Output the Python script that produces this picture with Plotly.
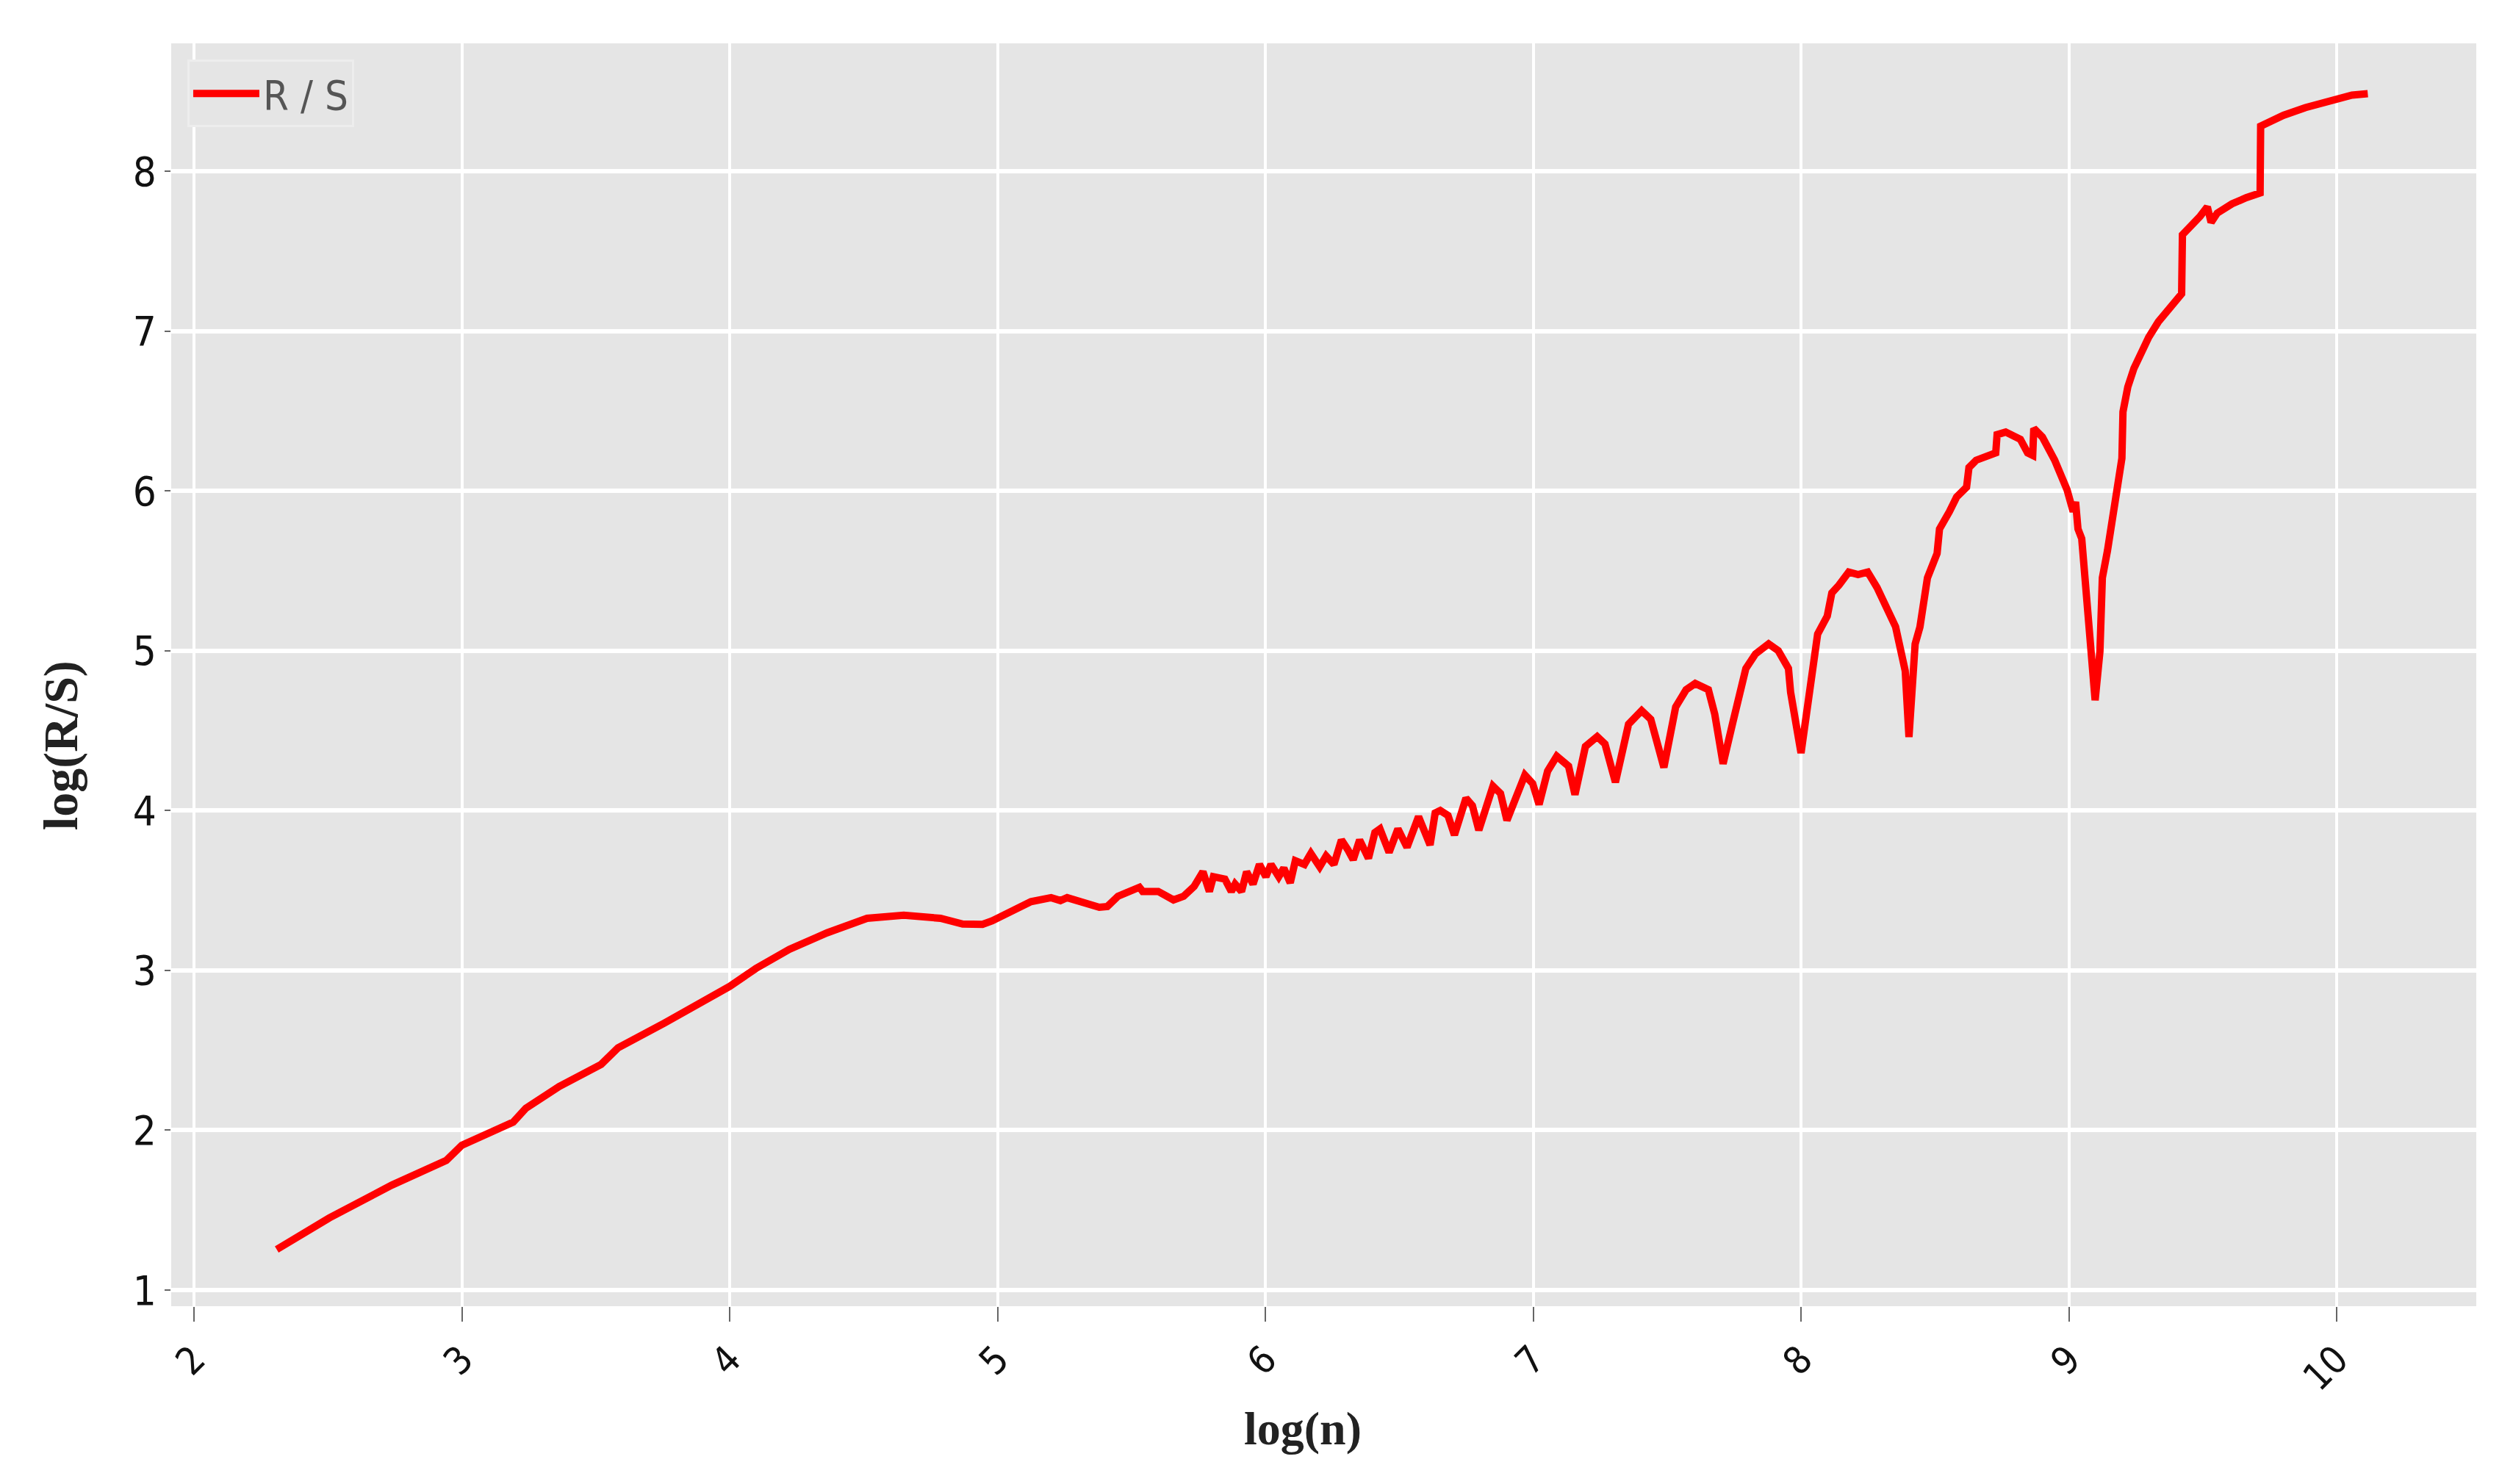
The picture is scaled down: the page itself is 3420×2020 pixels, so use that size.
import plotly.graph_objects as go

# ---- data ----
log_n = [
    2.309, 2.505, 2.739, 2.942, 3.0, 3.192, 3.239, 3.364, 3.520, 3.583, 3.755, 3.927,
    4.0, 4.098, 4.223, 4.364, 4.513, 4.65, 4.686, 4.787, 4.87, 4.944, 4.98, 5.06,
    5.125, 5.20, 5.235, 5.26, 5.317, 5.38, 5.41, 5.45, 5.53, 5.542, 5.600, 5.657,
    5.695, 5.734, 5.767, 5.791, 5.806, 5.849, 5.873, 5.887, 5.911, 5.930, 5.954, 5.978,
    6.002, 6.021, 6.050, 6.069, 6.093, 6.112, 6.146, 6.170, 6.203, 6.227, 6.256, 6.284,
    6.308, 6.328, 6.352, 6.385, 6.409, 6.428, 6.462, 6.495, 6.529, 6.572, 6.615, 6.634,
    6.653, 6.682, 6.706, 6.749, 6.773, 6.797, 6.850, 6.878, 6.902, 6.969, 6.998, 7.022,
    7.054, 7.088, 7.132, 7.156, 7.195, 7.239, 7.268, 7.307, 7.356, 7.405, 7.439, 7.488,
    7.532, 7.571, 7.605, 7.654, 7.678, 7.709, 7.746, 7.776, 7.794, 7.830, 7.879, 7.915,
    7.953, 7.961, 7.980, 8.0, 8.020, 8.044, 8.062, 8.098, 8.115, 8.142, 8.178, 8.213,
    8.249, 8.284, 8.311, 8.337, 8.353, 8.366, 8.389, 8.403, 8.426, 8.444, 8.472, 8.508,
    8.517, 8.554, 8.581, 8.618, 8.627, 8.654, 8.727, 8.732, 8.764, 8.819, 8.846, 8.865,
    8.869, 8.901, 8.947, 8.993, 9.016, 9.025, 9.034, 9.048, 9.075, 9.098, 9.116, 9.125,
    9.144, 9.166, 9.180, 9.198, 9.202, 9.220, 9.243, 9.270, 9.298, 9.334, 9.389, 9.421,
    9.424, 9.462, 9.490, 9.517, 9.531, 9.554, 9.609, 9.663, 9.714, 9.716, 9.737, 9.801,
    9.883, 9.993, 10.057, 10.116,
]
log_rs = [
    1.254, 1.451, 1.657, 1.811, 1.906, 2.051, 2.137, 2.274, 2.412, 2.515, 2.669, 2.840,
    2.900, 3.012, 3.132, 3.235, 3.326, 3.345, 3.340, 3.326, 3.290, 3.288, 3.310, 3.370,
    3.430, 3.455, 3.437, 3.455, 3.430, 3.395, 3.400, 3.464, 3.520, 3.494, 3.494, 3.441,
    3.464, 3.525, 3.617, 3.494, 3.586, 3.571, 3.494, 3.540, 3.494, 3.617, 3.540, 3.663,
    3.586, 3.663, 3.586, 3.640, 3.548, 3.686, 3.663, 3.732, 3.648, 3.716, 3.663, 3.816,
    3.755, 3.693, 3.816, 3.701, 3.862, 3.885, 3.739, 3.885, 3.770, 3.962, 3.785, 3.985,
    4.000, 3.969, 3.847, 4.077, 4.031, 3.877, 4.153, 4.107, 3.939, 4.222, 4.169, 4.038,
    4.247, 4.340, 4.278, 4.100, 4.401, 4.463, 4.417, 4.177, 4.540, 4.625, 4.571, 4.270,
    4.648, 4.756, 4.795, 4.756, 4.602, 4.293, 4.556, 4.756, 4.889, 4.980, 5.043, 5.000,
    4.889, 4.741, 4.556, 4.360, 4.600, 4.900, 5.104, 5.217, 5.362, 5.411, 5.492, 5.476,
    5.492, 5.395, 5.298, 5.201, 5.150, 5.050, 4.874, 4.460, 5.042, 5.149, 5.456, 5.609,
    5.762, 5.870, 5.962, 6.023, 6.146, 6.192, 6.238, 6.352, 6.368, 6.322, 6.238, 6.222,
    6.391, 6.337, 6.192, 6.008, 5.870, 5.931, 5.762, 5.701, 5.149, 4.690, 4.996, 5.456,
    5.625, 5.885, 6.008, 6.204, 6.495, 6.650, 6.767, 6.864, 6.961, 7.058, 7.175, 7.233,
    7.602, 7.660, 7.718, 7.777, 7.680, 7.738, 7.796, 7.835, 7.864, 8.282, 8.301, 8.350,
    8.398, 8.447, 8.476, 8.485,
]
x_ticks = [2, 3, 4, 5, 6, 7, 8, 9, 10]
y_ticks = [1, 2, 3, 4, 5, 6, 7, 8]
series_name = "R / S"
x_title = "log(n)"
y_title = "log(R/S)"

TICK_FONT = "DejaVu Sans Condensed, DejaVu Sans, sans-serif"
TITLE_FONT = "Liberation Serif, Times New Roman, serif"

fig = go.Figure()
fig.add_trace(go.Scatter(
    x=log_n, y=log_rs, mode="lines", name=series_name,
    line=dict(color="#FF0000", width=10),
))

fig.update_layout(
    width=3420, height=2020,
    margin=dict(l=233, r=50, t=59, b=242),
    paper_bgcolor="white",
    plot_bgcolor="#E5E5E5",
    showlegend=True,
    legend=dict(
        x=0.007, y=0.987, xanchor="left", yanchor="top",
        bgcolor="#E5E5E5", bordercolor="#EDEDED", borderwidth=3,
        itemwidth=90,
        font=dict(family=TICK_FONT, size=56, color="#555555"),
    ),
    annotations=[
        dict(text=f"<b>{x_title}</b>", xref="paper", yref="paper",
             x=0.491, y=-0.097, xanchor="center", yanchor="middle",
             showarrow=False, font=dict(family=TITLE_FONT, size=64, color="#222222")),
        dict(text=f"<b>{y_title}</b>", xref="paper", yref="paper",
             x=-0.048, y=0.444, xanchor="center", yanchor="middle", textangle=-90,
             showarrow=False, font=dict(family=TITLE_FONT, size=66, color="#222222")),
    ],
)

fig.update_xaxes(
    range=[1.915, 10.521],
    tickvals=x_ticks, ticktext=[str(v) for v in x_ticks],
    tickangle=-45, ticks="outside", ticklen=20, tickwidth=2, tickcolor="#666666",
    showgrid=True, gridcolor="white", gridwidth=4,
    zeroline=False, showline=False,
    tickfont=dict(family=TICK_FONT, size=52, color="#111111"),
)
fig.update_yaxes(
    range=[0.899, 8.80],
    tickvals=y_ticks, ticktext=[str(v) for v in y_ticks],
    ticks="outside", ticklen=8, tickwidth=2, tickcolor="#666666",
    showgrid=True, gridcolor="white", gridwidth=6,
    zeroline=False, showline=False,
    tickfont=dict(family=TICK_FONT, size=56, color="#111111"),
)

fig.write_html("out.html", config={"displayModeBar": False})

# remove default body margin so the figure sits at the page origin
with open("out.html", "r", encoding="utf-8") as f:
    html = f.read()
html = html.replace("<body>", '<body style="margin:0;padding:0;">', 1)
with open("out.html", "w", encoding="utf-8") as f:
    f.write(html)
